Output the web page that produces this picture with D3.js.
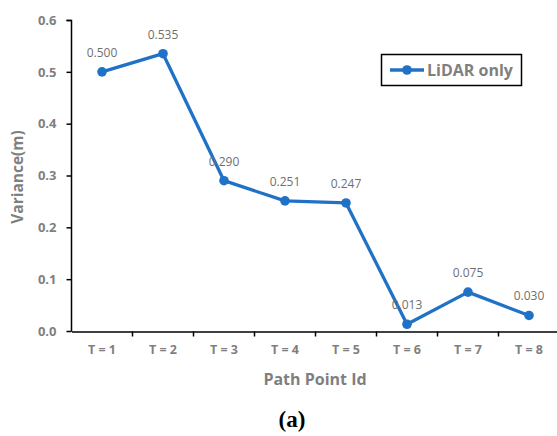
<!DOCTYPE html>
<html><head><meta charset="utf-8">
<script src="https://cdn.jsdelivr.net/npm/d3@7"></script>
<style>body{margin:0;background:#fff}svg{display:block}</style>
</head><body>
<svg id="c" width="557" height="436"></svg>
<script>
const categories = ["T = 1","T = 2","T = 3","T = 4","T = 5","T = 6","T = 7","T = 8"];
const lidarOnly = [0.500,0.535,0.290,0.251,0.247,0.013,0.075,0.030];
const yTicks = [0,0.1,0.2,0.3,0.4,0.5,0.6];
const seriesName = "LiDAR only";

const svg = d3.select("#c");
const gray = "#7f7f7f", blue = "#1f72c6";
const x = d3.scaleBand().domain(categories).range([71.5, 71.5 + 61*8]);
const y = d3.scaleLinear().domain([0,0.6]).range([331,20]);

const yAxis = d3.axisLeft(y).tickValues(yTicks).tickFormat(d3.format(".1f")).tickSize(5).tickPadding(10);
const gy = svg.append("g").attr("transform","translate(71.5,0)").call(yAxis);
gy.select(".domain").attr("d","M-5,20.5H0V331.5").attr("stroke","#000").attr("stroke-width",1.5);
gy.selectAll(".tick line").attr("stroke","#000").attr("stroke-width",1.5);
gy.selectAll(".tick text").attr("fill",gray).attr("font-family","Open Sans, sans-serif").attr("font-weight","bold").attr("font-size","13px");

const xAxis = d3.axisBottom(x).tickSize(0).tickPadding(14);
const gx = svg.append("g").attr("transform","translate(0,331.5)").call(xAxis);
gx.select(".domain").attr("stroke","#000").attr("stroke-width",1.5);
gx.selectAll(".tick text").attr("fill",gray).attr("font-family","Open Sans, sans-serif").attr("font-weight","bold").attr("font-size","12.5px");
// boundary ticks
svg.append("g").selectAll("line").data(categories.slice(1).concat(["end"])).join("line")
  .attr("x1",(d,i)=>71.5+61*(i+1)).attr("x2",(d,i)=>71.5+61*(i+1))
  .attr("y1",331.5).attr("y2",336.5).attr("stroke","#000").attr("stroke-width",1.5);

const cx = d => x(d) + x.bandwidth()/2;
const line = d3.line().x((d,i)=>cx(categories[i])).y(d=>y(d));
svg.append("path").datum(lidarOnly).attr("d",line).attr("fill","none").attr("stroke",blue).attr("stroke-width",3.3).attr("stroke-linejoin","round");
svg.append("g").selectAll("circle").data(lidarOnly).join("circle")
  .attr("cx",(d,i)=>cx(categories[i])).attr("cy",d=>y(d)).attr("r",4.8).attr("fill",blue);
svg.append("g").selectAll("text").data(lidarOnly).join("text")
  .attr("x",(d,i)=>cx(categories[i])).attr("y",d=>y(d)-15).attr("text-anchor","middle")
  .attr("fill","#6f6f6f").attr("font-family","Open Sans, sans-serif").attr("font-size","12px")
  .text(d=>d3.format(".3f")(d));

// legend
const lg = svg.append("g");
lg.append("rect").attr("x",381.5).attr("y",54.5).attr("width",140).attr("height",31).attr("fill","#fff").attr("stroke","#000").attr("stroke-width",1.5);
lg.append("line").attr("x1",390).attr("x2",424).attr("y1",70).attr("y2",70).attr("stroke",blue).attr("stroke-width",3.3);
lg.append("circle").attr("cx",407).attr("cy",70).attr("r",4.8).attr("fill",blue);
lg.append("text").attr("x",427).attr("y",76).attr("fill",gray).attr("font-family","Open Sans, sans-serif").attr("font-weight","bold").attr("font-size","16px").text(seriesName);

svg.append("text").attr("transform","translate(23,177) rotate(-90)").attr("text-anchor","middle")
  .attr("fill",gray).attr("font-family","Open Sans, sans-serif").attr("font-weight","bold").attr("font-size","15.5px").text("Variance(m)");
svg.append("text").attr("x",315).attr("y",385).attr("text-anchor","middle")
  .attr("fill",gray).attr("font-family","Open Sans, sans-serif").attr("font-weight","bold").attr("font-size","16px").text("Path Point Id");
svg.append("text").attr("x",292).attr("y",427).attr("text-anchor","middle")
  .attr("fill","#000").attr("font-family","Liberation Serif, serif").attr("font-weight","bold").attr("font-size","23px").text("(a)");
</script>
</body></html>
